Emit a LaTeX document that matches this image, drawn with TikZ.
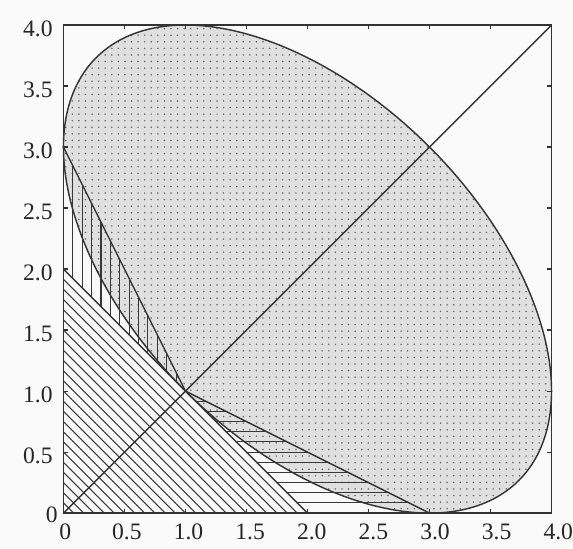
\documentclass[tikz,border=0pt]{standalone}
\usepackage{fontspec}
\setmainfont{Liberation Serif}
\usetikzlibrary{patterns.meta}
\begin{document}
\begin{tikzpicture}[x=3cm,y=3cm,
  frame/.style={draw=black!80, line width=1pt},
  curve/.style={draw=black!80, line width=1pt},
  hatchline/.style={draw=black!78, line width=0.75pt},
  tickmark/.style={draw=black!80, line width=0.8pt},
  ticklab/.style={font=\fontsize{16.5}{18}\selectfont, text=black!85, inner sep=0pt},
  ellfill/.style={fill=black!12},
  elldots/.style={pattern={Dots[radius=0.6pt,distance=4.6pt]}, pattern color=black!60}]
\useasboundingbox[fill=black!2] (-0.52,-0.287) rectangle (4.176,4.205);

% key points
\coordinate (O) at (0,0);
\coordinate (D) at (4,4);
\coordinate (M) at (1,1);
\coordinate (A2) at (0,2);
\coordinate (A3) at (0,3);
\coordinate (B2) at (2,0);
\coordinate (B3) at (3,0);

% ellipse: centre (2,2), semi-axes sqrt6 along (1,-1), sqrt2 along (1,1)
\def\ellipsepath{plot[domain=0:360,samples=181,smooth]
  ({2+1.7321*cos(\x)+sin(\x)},{2-1.7321*cos(\x)+sin(\x)}) -- cycle}
\path[ellfill] \ellipsepath;
\path[elldots] \ellipsepath;

% hatching of the triangle x+y<=2 (parallel to the hypotenuse)
\foreach \k in {1,...,23}{
  \draw[hatchline] ({0},{\k/12}) -- ({\k/12},{0});
}
% vertical hatching between x+y=2 and 2x+y=3
\foreach \k in {1,...,12}{
  \draw[hatchline] ({\k/13},{2-\k/13}) -- ({\k/13},{3-2*\k/13});
}
% horizontal hatching between x+y=2 and x+2y=3
\foreach \k in {1,...,11}{
  \draw[hatchline] ({2-\k/12},{\k/12}) -- ({3-2*\k/12},{\k/12});
}

% outlines
\draw[curve] \ellipsepath;
\draw[curve] (A3) -- (M) -- (B3);
\draw[curve] (A2) -- (B2);
\draw[curve] (O) -- (D);

% frame and ticks
\draw[frame] (0,0) rectangle (4,4);
\foreach \t in {0.5,1,1.5,2,2.5,3,3.5}{
  \draw[tickmark] (\t,0) -- (\t,0.035);
  \draw[tickmark] (\t,4) -- (\t,3.965);
  \draw[tickmark] (0,\t) -- (0.035,\t);
  \draw[tickmark] (4,\t) -- (3.965,\t);
}

% x tick labels
\foreach \t/\l [count=\i] in {0/0,0.5/0.5,1/1.0,1.5/1.5,2/2.0,2.5/2.5,3/3.0,3.5/3.5,4/4.0}{
  \node[ticklab] (xl\i) at ({\t+0.015+0.01*\t},-0.153) {\l};
}
% y tick labels
\node[ticklab, anchor=east] (yl0) at (-0.045,-0.016) {0};
\foreach \t/\l [count=\i] in {0.5/0.5,1/1.0,1.5/1.5,2/2.0,2.5/2.5,3/3.0,3.5/3.5,4/4.0}{
  \node[ticklab, anchor=east] (yl\i) at (-0.086,{\t-0.028}) {\l};
}
\end{tikzpicture}
\end{document}
